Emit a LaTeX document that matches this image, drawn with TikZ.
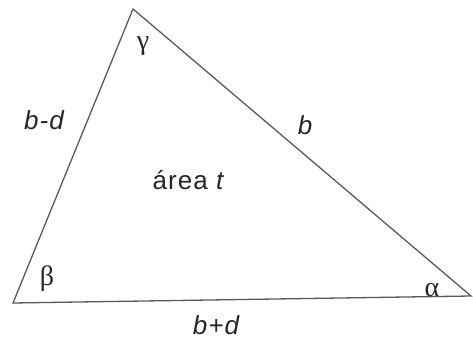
\documentclass[tikz,border=0pt]{standalone}
\usepackage{fontspec}
\setmainfont{Liberation Sans}[LetterSpace=4]
\newfontfamily\greekfont{Liberation Serif}
\begin{document}
\begin{tikzpicture}[x=1pt,y=1pt,
  edge/.style={draw=black!65,line width=1.3pt},
  lbl/.style={font=\fontsize{26}{30}\selectfont\itshape,text=black!85,inner sep=0pt},
  ang/.style={font=\greekfont\fontsize{28}{32}\selectfont,text=black!85,inner sep=0pt}]
\useasboundingbox (0,0) rectangle (473,340);
\coordinate (A) at (13,37);
\coordinate (C) at (133,331);
\coordinate (B) at (471,44);
\draw[edge,line join=miter] (A) -- (C) -- (B) -- cycle;
\node[ang] (gamma) at (143,294) {γ};
\node[ang] (beta) at (47,61) {β};
\node[ang] (alpha) at (432,50) {α};
\node[lbl] (bd) at (44,220) {b-d};
\node[lbl] (b) at (305,215) {b};
\node[lbl] (bpd) at (216,15) {b+d};
\node[lbl,font=\fontsize{26}{30}\selectfont] (area) at (189,160) {área \textit{t}};
\end{tikzpicture}
\end{document}
